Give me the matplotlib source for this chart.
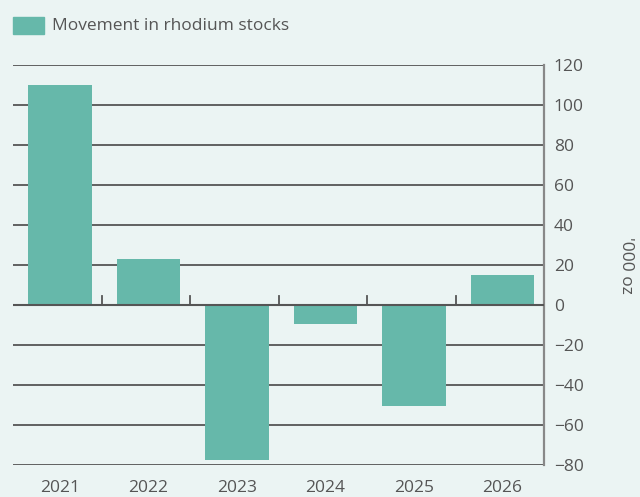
import matplotlib.pyplot as plt
from matplotlib.patches import Rectangle

years = ['2021', '2022', '2023', '2024', '2025', '2026']
stocks = [110, 23, -77.5, -9.5, -50.5, 15]
yticks = [-80, -60, -40, -20, 0, 20, 40, 60, 80, 100, 120]

bg = '#ebf4f3'
teal = '#66b8aa'
txt = '#555555'
plt.rcParams['font.family'] = ['Open Sans', 'DejaVu Sans']

W, H = 640, 497
fig = plt.figure(figsize=(6.4, 4.97), dpi=100, facecolor=bg)
ax = fig.add_axes([13 / W, 1 - 465 / H, 531 / W, 400 / H], facecolor=bg)

x = range(len(years))
ax.bar(x, stocks, width=0.72, color=teal, zorder=3)

ax.set_ylim(-80, 120)
ax.set_xlim(-0.53, len(years) - 0.53)
ax.set_yticks(yticks)
ax.yaxis.tick_right()
ax.tick_params(axis='y', length=0, pad=7, labelsize=12.5, labelcolor=txt)
ax.grid(axis='y', color='#555555', linewidth=1.3, zorder=1)

ax.set_xticks(list(x))
ax.set_xticklabels(years)
ax.tick_params(axis='x', length=0, pad=11, labelsize=12.5, labelcolor=txt)

# small boundary ticks on the zero line between years
for k in range(1, len(years)):
    ax.plot([k - 0.53, k - 0.53], [0, 4.5], color='#555555', lw=1.3, zorder=2)
ax.axhline(0, color='#555555', lw=1.5, zorder=4)

for s in ['top', 'left', 'bottom']:
    ax.spines[s].set_visible(False)
ax.spines['right'].set_color('#888888')
ax.spines['right'].set_linewidth(1.6)

ax.yaxis.set_label_position('right')
ax.set_ylabel("'000 oz", rotation=270, color=txt, fontsize=12.5, labelpad=36)

# legend drawn by hand to sit where the original does
fig.patches.append(Rectangle((13 / W, 1 - 34 / H), 31 / W, 17 / H,
                             transform=fig.transFigure, color=teal))
fig.text(52 / W, 1 - 26 / H, 'Movement in rhodium stocks', fontsize=12.5,
         color=txt, va='center', ha='left')

plt.savefig('out.png', dpi=100, facecolor=bg)
